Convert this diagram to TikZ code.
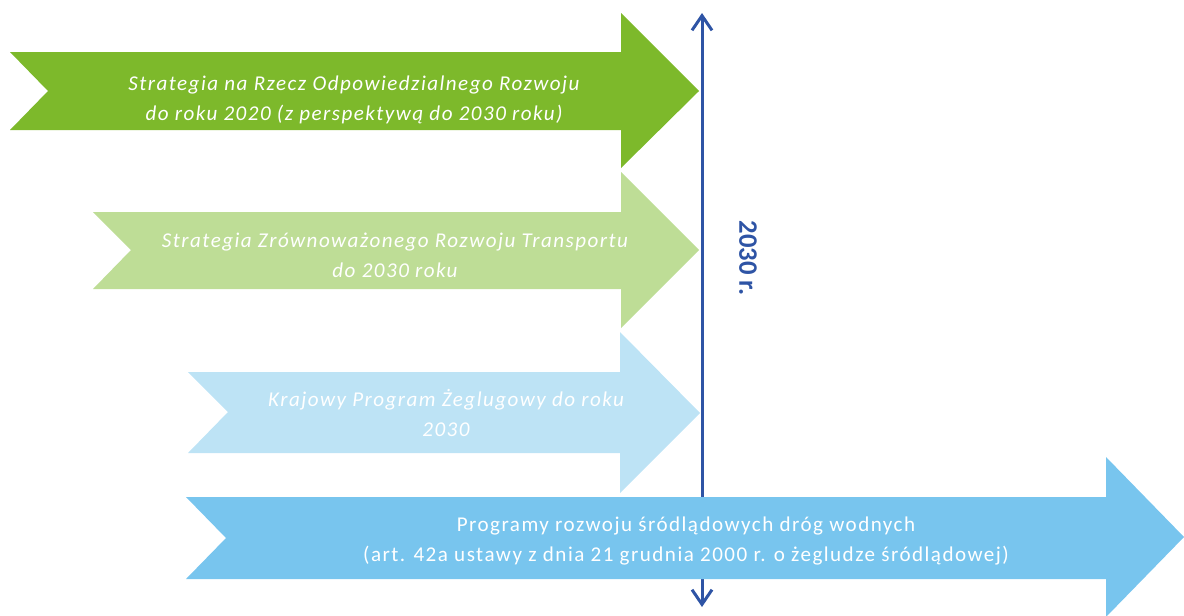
\documentclass[tikz,border=0pt]{standalone}
\usepackage{fontspec}
\setmainfont{Carlito}
\newfontfamily\rozstrzelony[LetterSpace=7]{Carlito}
\usetikzlibrary{arrows.meta}

\definecolor{zielenCiemna}{RGB}{125,185,43}
\definecolor{zielenJasna}{RGB}{190,221,150}
\definecolor{blekitJasny}{RGB}{189,227,245}
\definecolor{blekit}{RGB}{120,197,238}
\definecolor{granat}{RGB}{46,84,165}

\tikzset{
  napis/.style={text=white, align=center, inner sep=0.75pt, font=\rozstrzelony\fontsize{15.8}{22.5}\selectfont\itshape},
  napisProsty/.style={napis, font=\rozstrzelony\fontsize{15.8}{22.5}\selectfont},
  os/.style={draw=granat, line width=2.25pt, {Straight Barb[length=11pt,width=15pt]}-{Straight Barb[length=11pt,width=15pt]}},
}

\begin{document}
\begin{tikzpicture}[x=0.75pt,y=0.75pt,yscale=-1,xscale=1]
\useasboundingbox (0,0) rectangle (1184,615);

%Shape: Right Arrow [notched]
\fill [zielenCiemna] (10,52) -- (621,52) -- (621,13) -- (699,91) -- (621,168) -- (621,130) -- (10,130) -- (48,91) -- cycle ;
%Shape: Right Arrow [notched]
\fill [zielenJasna] (93,212) -- (621,212) -- (621,172) -- (699,250) -- (621,328) -- (621,289) -- (93,289) -- (131,250) -- cycle ;
%Shape: Right Arrow [notched]
\fill [blekitJasny] (188,372) -- (620,372) -- (620,332) -- (700,413) -- (620,493) -- (620,453) -- (188,453) -- (228,412) -- cycle ;

%Straight Lines [timeline]
\coordinate (gora) at (702,13);
\coordinate (dol) at (702,607);
\draw [os] (gora) -- (dol) ;

%Shape: Right Arrow [notched]
\fill [blekit] (186,497) -- (1106,497) -- (1106,457) -- (1184,537) -- (1106,617) -- (1106,579) -- (186,579) -- (226,538) -- cycle ;

% Text Node
\draw (354,100) node [napis] (strategia) {Strategia na Rzecz Odpowiedzialnego Rozwoju\\do roku 2020 (z perspektywą do 2030 roku)};
% Text Node
\draw (395,255) node [napis] (transport) {Strategia Zrównoważonego Rozwoju Transportu\\do 2030 roku};
% Text Node
\draw (446,413) node [napis] (zegluga) {Krajowy Program Żeglugowy do roku\\2030};
% Text Node
\draw (686,541) node [napisProsty] (programy) {Programy rozwoju śródlądowych dróg wodnych\\(art. 42a ustawy z dnia 21 grudnia 2000 r. o żegludze śródlądowej)};
% Text Node
\draw (748,258) node [rotate=-90, text=granat, inner sep=0.75pt, font=\fontsize{20}{24}\selectfont\bfseries] (rok) {2030 r.};

\end{tikzpicture}
\end{document}
